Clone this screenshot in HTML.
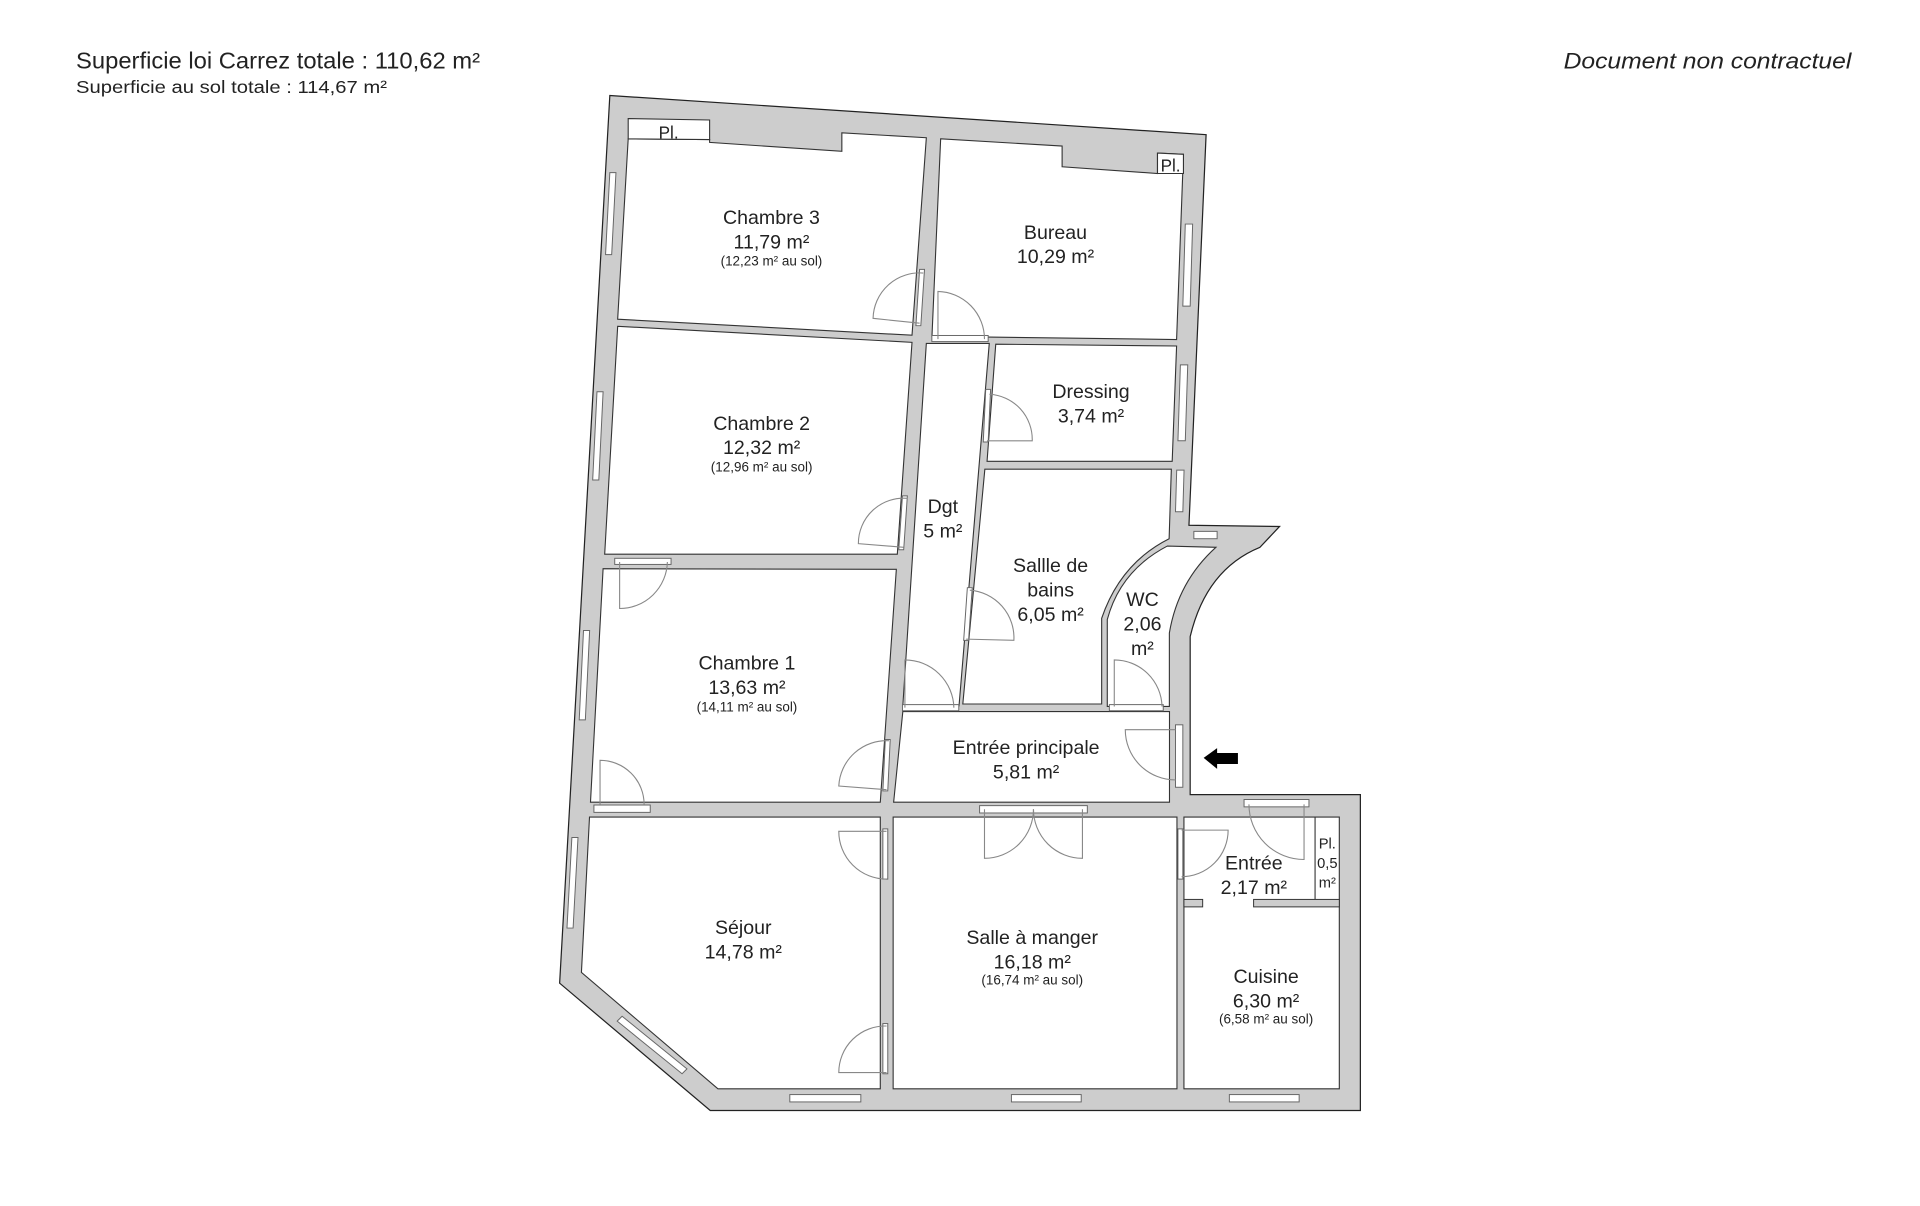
<!DOCTYPE html>
<html><head><meta charset="utf-8"><style>
html,body{margin:0;padding:0;background:#fff;}
svg{display:block;}
text{font-family:"Liberation Sans",sans-serif;fill:#222;}
.l{font-size:16px;text-anchor:middle;}
.s{font-size:11px;text-anchor:middle;}
.r{fill:#fff;stroke:#333;stroke-width:0.9;}
.d{fill:none;stroke:#888;stroke-width:0.9;}
.w{fill:#fff;stroke:#666;stroke-width:0.8;}
</style></head><body>
<svg width="1920" height="1206" viewBox="0 0 1568 985" xmlns="http://www.w3.org/2000/svg">
<text x="62" y="56" style="font-size:18.5px" textLength="330" lengthAdjust="spacingAndGlyphs">Superficie loi Carrez totale : 110,62 m²</text>
<text x="62" y="76" style="font-size:14.5px" textLength="254" lengthAdjust="spacingAndGlyphs">Superficie au sol totale : 114,67 m²</text>
<text x="1277" y="56" style="font-size:18px;font-style:italic" textLength="235" lengthAdjust="spacingAndGlyphs">Document non contractuel</text>

<path d="M498,78 L985,110 L971,429 L1045,430 L1029,447 Q985,465 972,520 L972,649 L1111,649 L1111,907 L580,907 L457,803 Z" fill="#cdcdcd" stroke="#222" stroke-width="1"/>

<path class="r" d="M513,113.4 L579.5,114 L579.5,116.3 L687.5,123.6 L687.5,108.5 L756.5,112.5 L744.8,273.8 L504.4,260.7 Z"/>
<path class="r" d="M513,96.8 L579.5,98 L579.5,114 L513,113.4 Z"/>
<path class="r" d="M768.2,113.4 L867.4,119.3 L867.4,136.2 L945.3,141.7 L945.3,125 L966.5,126 L960.9,277.3 L761.1,274.7 Z"/>
<path class="r" d="M945.3,125 L966.5,126 L966.5,141.7 L945.3,141.7 Z"/>
<path class="r" d="M504.4,266.5 L744.8,279.6 L732.8,452.6 L493.8,452.6 Z"/>
<path class="r" d="M492.5,464.5 L732,465 L718.9,655.2 L482.2,655.2 Z"/>
<path class="r" d="M756.5,280.5 L807.9,280.5 L783.2,576.6 L737.3,576.6 Z"/>
<path class="r" d="M737.3,581.2 L955.1,581.2 L955.1,655.2 L729.8,655.2 Z"/>
<path class="r" d="M813.2,281.1 L960.9,282.6 L957.3,376.8 L806.1,376.8 Z"/>
<path class="r" d="M804.3,383.2 L956.6,383.2 L954.8,440 Q915,460 899.7,505 L899.7,575 L786.3,575 Z"/>
<path class="r" d="M953.3,446 L993,447 Q962,475 955,517 L955,577 L904.3,577 L904.3,506 Q915,466 953.3,446 Z"/>
<path class="r" d="M481.4,667.3 L718.9,667.3 L718.9,889.3 L586.3,889.3 L474.8,794.2 Z"/>
<path class="r" d="M729.4,667.3 L961.2,667.3 L961.2,889.3 L729.4,889.3 Z"/>
<path class="r" d="M966.9,667.3 L1093.8,667.3 L1093.8,889.3 L966.9,889.3 Z"/>
<rect x="966.9" y="734.6" width="15.3" height="6.1" fill="#cdcdcd" stroke="#333" stroke-width="0.8"/>
<rect x="1023.8" y="734.6" width="70" height="6.1" fill="#cdcdcd" stroke="#333" stroke-width="0.8"/>
<line x1="1074" y1="667.3" x2="1074" y2="734.6" stroke="#333" stroke-width="0.9"/>

<g>
<path class="w" d="M498,141 L503,141 L499.5,208 L494.5,208 Z"/>
<path class="w" d="M487.5,320 L492.5,320 L489,392 L484,392 Z"/>
<path class="w" d="M476.5,515 L481.5,515 L478,588 L473,588 Z"/>
<path class="w" d="M467,684 L472,684 L468,758 L463,758 Z"/>
<path class="w" d="M508,830 L561,873 L557,877 L504,834 Z"/>
<rect class="w" x="645" y="894" width="58" height="6"/>
<rect class="w" x="826" y="894" width="57" height="6"/>
<rect class="w" x="1004" y="894" width="57" height="6"/>
<rect class="w" x="502" y="456" width="46" height="5"/>
<rect class="w" x="485" y="657.5" width="46" height="6"/>
<rect class="w" x="800" y="658" width="88" height="6"/>
<rect class="w" x="1016" y="653" width="53" height="6"/>
<path class="w" d="M968,183 L974,183 L972,250 L966,250 Z"/>
<path class="w" d="M964,298 L970,298 L968,360 L962,360 Z"/>
<path class="w" d="M961,384 L967,384 L966,418 L960,418 Z"/>
<rect class="w" x="975" y="434" width="19" height="6"/>
<rect class="w" x="960" y="592" width="6" height="51"/>
<rect class="w" x="761" y="274" width="46" height="5"/>
<rect class="w" x="737" y="575.5" width="46" height="5"/>
<rect class="w" x="906" y="575.5" width="44" height="5"/>
<path class="w" d="M751,220 L755,220 L752,266 L748,266 Z"/>
<path class="w" d="M737,405 L741,405 L738,449 L734,449 Z"/>
<path class="w" d="M805,318 L809,318 L807,361 L803,361 Z"/>
<path class="w" d="M790,480 L794,480 L791,523 L787,523 Z"/>
<path class="w" d="M723,604 L727,604 L725,646 L721,646 Z"/>
<rect class="w" x="721" y="677" width="4" height="41"/>
<rect class="w" x="721" y="836" width="4" height="41"/>
<rect class="w" x="962" y="677" width="4" height="41"/>
</g>

<g class="d">
<path d="M751,264 L713,260 A38,38 0 0 1 754,223"/>
<path d="M766,277 L766,238 A39,39 0 0 1 804,277"/>
<path d="M738,447 L701,444 A37,37 0 0 1 741,407"/>
<path d="M806,360 L843,360 A37,37 0 0 0 808,322"/>
<path d="M506,459 L506,497 A39,39 0 0 0 545,459"/>
<path d="M789,522 L828,523 A39,39 0 0 0 792,482"/>
<path d="M739,578 L739,539 A40,40 0 0 1 779,578"/>
<path d="M910,577 L910,539 A39,39 0 0 1 949,577"/>
<path d="M960,596 L919,596 A41,41 0 0 0 960,637"/>
<path d="M724,645 L685,642 A39,39 0 0 1 726,605"/>
<path d="M490,657 L490,621 A36,36 0 0 1 526,657"/>
<path d="M724,679 L685,679 A39,39 0 0 0 724,718"/>
<path d="M724,876 L685,876 A38,38 0 0 1 724,838"/>
<path d="M804,661 L804,701 A40,40 0 0 0 844,661"/>
<path d="M884,661 L884,701 A40,40 0 0 1 844,661"/>
<path d="M965,678 L1003,678 A38,38 0 0 1 965,716"/>
<path d="M1065,657 L1065,702 A45,45 0 0 1 1020,657"/>
</g>

<path d="M983,619 L994,611 L994,615 L1011,615 L1011,624 L994,624 L994,628 Z" fill="#000"/>

<text x="546" y="113" style="font-size:14px;text-anchor:middle">Pl.</text>
<text x="956" y="140" style="font-size:14px;text-anchor:middle">Pl.</text>
<text class="l" x="630" y="183">Chambre 3</text><text class="l" x="630" y="203">11,79 m²</text><text class="s" x="630" y="217">(12,23 m² au sol)</text>
<text class="l" x="862" y="195">Bureau</text><text class="l" x="862" y="215">10,29 m²</text>
<text class="l" x="891" y="325">Dressing</text><text class="l" x="891" y="345">3,74 m²</text>
<text class="l" x="622" y="351">Chambre 2</text><text class="l" x="622" y="371">12,32 m²</text><text class="s" x="622" y="385">(12,96 m² au sol)</text>
<text class="l" x="770" y="419">Dgt</text><text class="l" x="770" y="439">5 m²</text>
<text class="l" x="858" y="467">Sallle de</text><text class="l" x="858" y="487">bains</text><text class="l" x="858" y="507">6,05 m²</text>
<text class="l" x="933" y="495">WC</text><text class="l" x="933" y="515">2,06</text><text class="l" x="933" y="535">m²</text>
<text class="l" x="610" y="547">Chambre 1</text><text class="l" x="610" y="567">13,63 m²</text><text class="s" x="610" y="581">(14,11 m² au sol)</text>
<text class="l" x="838" y="616">Entrée principale</text><text class="l" x="838" y="636">5,81 m²</text>
<text class="l" x="607" y="763">Séjour</text><text class="l" x="607" y="783">14,78 m²</text>
<text class="l" x="843" y="771">Salle à manger</text><text class="l" x="843" y="791">16,18 m²</text><text class="s" x="843" y="804">(16,74 m² au sol)</text>
<text class="l" x="1024" y="710">Entrée</text><text class="l" x="1024" y="730">2,17 m²</text>
<text x="1084" y="693" style="font-size:12px;text-anchor:middle">Pl.</text><text x="1084" y="709" style="font-size:12px;text-anchor:middle">0,5</text><text x="1084" y="725" style="font-size:12px;text-anchor:middle">m²</text>
<text class="l" x="1034" y="803">Cuisine</text><text class="l" x="1034" y="823">6,30 m²</text><text class="s" x="1034" y="836">(6,58 m² au sol)</text>
</svg>
</body></html>
